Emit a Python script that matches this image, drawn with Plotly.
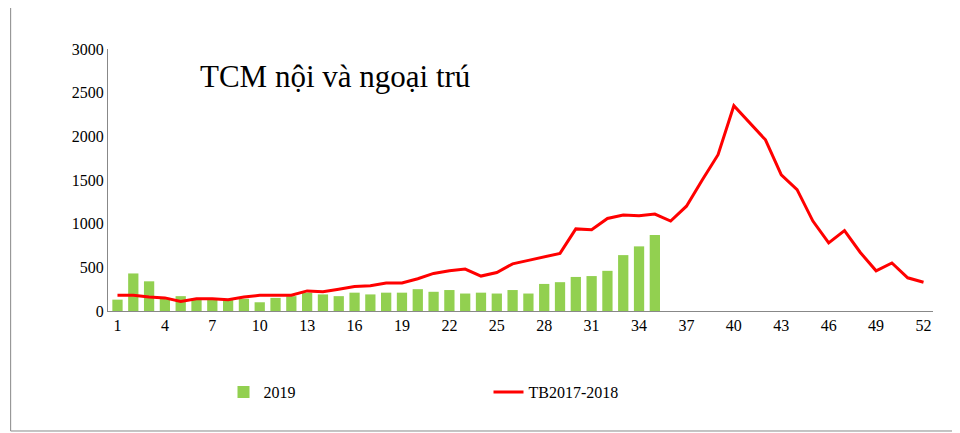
import plotly.graph_objects as go

weeks = list(range(1, 53))
bars_2019 = [130, 430, 340, 150, 170, 140, 130, 130, 140, 100, 150, 170, 210, 190, 170, 210, 190, 210, 210, 250,
             220, 240, 200, 210, 200, 240, 200, 310, 330, 390, 400, 460, 640, 740, 870]
line_tb = [180, 180, 160, 150, 110, 140, 140, 130, 160, 180, 180, 180, 230, 220, 250, 280, 290, 320, 320, 370,
           430, 460, 480, 400, 440, 540, 580, 620, 660, 940, 930, 1060, 1100, 1090, 1110, 1030, 1200, 1500, 1790, 2350,
           2150, 1960, 1560, 1390, 1030, 780, 920, 670, 460, 550, 380, 330]
tick_weeks = list(range(1, 53, 3))
title_text = "TCM nội và ngoại trú"

font = dict(family="Liberation Serif, Times New Roman, serif", size=16, color="#000")

fig = go.Figure()
fig.add_bar(x=weeks[:len(bars_2019)], y=bars_2019, name="2019", marker_color="#92d050",
            marker_line_width=0)
fig.add_scatter(x=weeks, y=line_tb, mode="lines", name="TB2017-2018",
                line=dict(color="#ff0000", width=3))
fig.update_layout(
    width=960, height=433, margin=dict(l=100, r=35, t=41, b=130),
    plot_bgcolor="white", paper_bgcolor="white", font=font, bargap=0.35,
    showlegend=True,
    legend=dict(orientation="h", x=0.14, xanchor="left", y=-0.31, yanchor="middle",
                font=dict(size=16), entrywidth=220, entrywidthmode="pixels"),
    annotations=[dict(text=title_text, x=0.109, y=0.97, xref="paper", yref="paper",
                      xanchor="left", yanchor="top", showarrow=False,
                      font=dict(family="Liberation Serif, Times New Roman, serif", size=31))],
    shapes=[dict(type="rect", xref="paper", yref="paper", x0=-0.118, x1=1.038, y0=-0.458, y1=1.18,
                 line=dict(color="#888", width=1))],
)
fig.update_xaxes(range=[0.4, 52.6], tickvals=tick_weeks, ticks="", showline=True,
                 linecolor="#888", showgrid=False)
fig.update_yaxes(range=[0, 3000], dtick=500, showline=True, linecolor="#888",
                 showgrid=False, ticks="", tickformat="d")
fig.write_html("out.html")
